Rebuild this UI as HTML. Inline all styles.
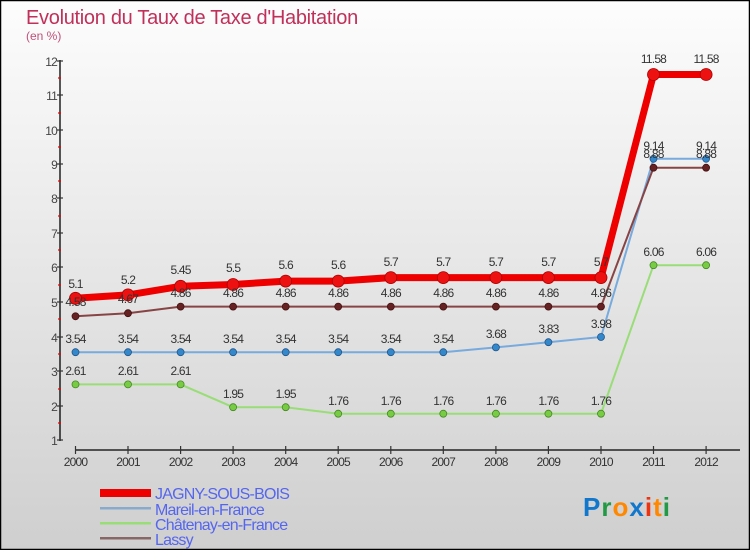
<!DOCTYPE html><html><head><style>body{margin:0}svg{display:block}text{font-family:"Liberation Sans",sans-serif}</style></head><body>
<svg width="750" height="550" xmlns="http://www.w3.org/2000/svg">
<defs><linearGradient id="g" x1="0" y1="0" x2="0" y2="1"><stop offset="0" stop-color="#fdfdfd"/><stop offset="1" stop-color="#cfcfcf"/></linearGradient></defs>
<rect x="0.5" y="0.5" width="749" height="549" fill="url(#g)" stroke="#000" stroke-width="1.5"/>
<text x="26" y="24" font-size="20" fill="#c0305a" letter-spacing="-0.3">Evolution du Taux de Taxe d'Habitation</text>
<text x="26" y="40" font-size="12" fill="#c0507a">(en %)</text>
<g stroke="#000" stroke-width="1.3"><line x1="60" y1="60" x2="60" y2="441"/><line x1="75" y1="450" x2="740" y2="450"/></g>
<g stroke="#333" stroke-width="1.2">
<line x1="57" y1="61" x2="63" y2="61"/><line x1="57" y1="95" x2="63" y2="95"/><line x1="57" y1="130" x2="63" y2="130"/><line x1="57" y1="164" x2="63" y2="164"/><line x1="57" y1="198" x2="63" y2="198"/><line x1="57" y1="233" x2="63" y2="233"/><line x1="57" y1="267" x2="63" y2="267"/><line x1="57" y1="302" x2="63" y2="302"/><line x1="57" y1="337" x2="63" y2="337"/><line x1="57" y1="371" x2="63" y2="371"/><line x1="57" y1="406" x2="63" y2="406"/><line x1="57" y1="440" x2="63" y2="440"/>
</g>
<g stroke="#e00" stroke-width="1.2">
<line x1="58" y1="78" x2="61" y2="78"/><line x1="58" y1="113" x2="61" y2="113"/><line x1="58" y1="147" x2="61" y2="147"/><line x1="58" y1="181" x2="61" y2="181"/><line x1="58" y1="216" x2="61" y2="216"/><line x1="58" y1="250" x2="61" y2="250"/><line x1="58" y1="285" x2="61" y2="285"/><line x1="58" y1="319" x2="61" y2="319"/><line x1="58" y1="354" x2="61" y2="354"/><line x1="58" y1="389" x2="61" y2="389"/><line x1="58" y1="423" x2="61" y2="423"/>
</g>
<g font-size="12" fill="#444" text-anchor="end" letter-spacing="-0.8">
<text x="57" y="66">12</text><text x="57" y="100">11</text><text x="57" y="135">10</text><text x="57" y="169">9</text><text x="57" y="203">8</text><text x="57" y="238">7</text><text x="57" y="272">6</text><text x="57" y="307">5</text><text x="57" y="342">4</text><text x="57" y="376">3</text><text x="57" y="411">2</text><text x="57" y="445">1</text>
</g>
<g stroke="#333" stroke-width="1.2">
<line x1="75.5" y1="446" x2="75.5" y2="454"/><line x1="128" y1="446" x2="128" y2="454"/><line x1="180.6" y1="446" x2="180.6" y2="454"/><line x1="233.1" y1="446" x2="233.1" y2="454"/><line x1="285.7" y1="446" x2="285.7" y2="454"/><line x1="338.2" y1="446" x2="338.2" y2="454"/><line x1="390.8" y1="446" x2="390.8" y2="454"/><line x1="443.3" y1="446" x2="443.3" y2="454"/><line x1="495.9" y1="446" x2="495.9" y2="454"/><line x1="548.4" y1="446" x2="548.4" y2="454"/><line x1="601" y1="446" x2="601" y2="454"/><line x1="653.5" y1="446" x2="653.5" y2="454"/><line x1="706.1" y1="446" x2="706.1" y2="454"/>
</g>
<g font-size="12" fill="#333" text-anchor="middle" letter-spacing="-0.8">
<text x="75.5" y="466">2000</text><text x="128" y="466">2001</text><text x="180.6" y="466">2002</text><text x="233.1" y="466">2003</text><text x="285.7" y="466">2004</text><text x="338.2" y="466">2005</text><text x="390.8" y="466">2006</text><text x="443.3" y="466">2007</text><text x="495.9" y="466">2008</text><text x="548.4" y="466">2009</text><text x="601" y="466">2010</text><text x="653.5" y="466">2011</text><text x="706.1" y="466">2012</text>
</g>
<polyline fill="none" stroke="#99dd77" stroke-width="2" points="75.5,384.4 128,384.4 180.6,384.4 233.1,407.2 285.7,407.2 338.2,413.7 390.8,413.7 443.3,413.7 495.9,413.7 548.4,413.7 601,413.7 653.5,265.2 706.1,265.2"/>
<g fill="#77cc44" stroke="#448822" stroke-width="0.8"><circle cx="75.5" cy="384.4" r="3.5"/><circle cx="128" cy="384.4" r="3.5"/><circle cx="180.6" cy="384.4" r="3.5"/><circle cx="233.1" cy="407.2" r="3.5"/><circle cx="285.7" cy="407.2" r="3.5"/><circle cx="338.2" cy="413.7" r="3.5"/><circle cx="390.8" cy="413.7" r="3.5"/><circle cx="443.3" cy="413.7" r="3.5"/><circle cx="495.9" cy="413.7" r="3.5"/><circle cx="548.4" cy="413.7" r="3.5"/><circle cx="601" cy="413.7" r="3.5"/><circle cx="653.5" cy="265.2" r="3.5"/><circle cx="706.1" cy="265.2" r="3.5"/></g>
<polyline fill="none" stroke="#77aadd" stroke-width="2" points="75.5,352.2 128,352.2 180.6,352.2 233.1,352.2 285.7,352.2 338.2,352.2 390.8,352.2 443.3,352.2 495.9,347.4 548.4,342.2 601,337 653.5,158.8 706.1,158.8"/>
<g fill="#3388cc" stroke="#225588" stroke-width="0.8"><circle cx="75.5" cy="352.2" r="3.5"/><circle cx="128" cy="352.2" r="3.5"/><circle cx="180.6" cy="352.2" r="3.5"/><circle cx="233.1" cy="352.2" r="3.5"/><circle cx="285.7" cy="352.2" r="3.5"/><circle cx="338.2" cy="352.2" r="3.5"/><circle cx="390.8" cy="352.2" r="3.5"/><circle cx="443.3" cy="352.2" r="3.5"/><circle cx="495.9" cy="347.4" r="3.5"/><circle cx="548.4" cy="342.2" r="3.5"/><circle cx="601" cy="337" r="3.5"/><circle cx="653.5" cy="158.8" r="3.5"/><circle cx="706.1" cy="158.8" r="3.5"/></g>
<polyline fill="none" stroke="#884444" stroke-width="2" points="75.5,316.3 128,313.2 180.6,306.6 233.1,306.6 285.7,306.6 338.2,306.6 390.8,306.6 443.3,306.6 495.9,306.6 548.4,306.6 601,306.6 653.5,167.7 706.1,167.7"/>
<g fill="#662222" stroke="#441111" stroke-width="0.8"><circle cx="75.5" cy="316.3" r="3.5"/><circle cx="128" cy="313.2" r="3.5"/><circle cx="180.6" cy="306.6" r="3.5"/><circle cx="233.1" cy="306.6" r="3.5"/><circle cx="285.7" cy="306.6" r="3.5"/><circle cx="338.2" cy="306.6" r="3.5"/><circle cx="390.8" cy="306.6" r="3.5"/><circle cx="443.3" cy="306.6" r="3.5"/><circle cx="495.9" cy="306.6" r="3.5"/><circle cx="548.4" cy="306.6" r="3.5"/><circle cx="601" cy="306.6" r="3.5"/><circle cx="653.5" cy="167.7" r="3.5"/><circle cx="706.1" cy="167.7" r="3.5"/></g>
<polyline fill="none" stroke="#ee0000" stroke-width="7" stroke-linejoin="round" points="75.5,298.3 128,294.9 180.6,286.3 233.1,284.5 285.7,281.1 338.2,281.1 390.8,277.6 443.3,277.6 495.9,277.6 548.4,277.6 601,277.6 653.5,74.5 706.1,74.5"/>
<g fill="#ee1111" stroke="#aa0000" stroke-width="0.8"><circle cx="75.5" cy="298.3" r="6"/><circle cx="128" cy="294.9" r="6"/><circle cx="180.6" cy="286.3" r="6"/><circle cx="233.1" cy="284.5" r="6"/><circle cx="285.7" cy="281.1" r="6"/><circle cx="338.2" cy="281.1" r="6"/><circle cx="390.8" cy="277.6" r="6"/><circle cx="443.3" cy="277.6" r="6"/><circle cx="495.9" cy="277.6" r="6"/><circle cx="548.4" cy="277.6" r="6"/><circle cx="601" cy="277.6" r="6"/><circle cx="653.5" cy="74.5" r="6"/><circle cx="706.1" cy="74.5" r="6"/></g>
<g font-size="12" fill="#333" text-anchor="middle" letter-spacing="-0.8">
<text x="75.5" y="288">5.1</text><text x="128" y="284">5.2</text><text x="180.6" y="274">5.45</text><text x="233.1" y="272">5.5</text><text x="285.7" y="269">5.6</text><text x="338.2" y="269">5.6</text><text x="390.8" y="266">5.7</text><text x="443.3" y="266">5.7</text><text x="495.9" y="266">5.7</text><text x="548.4" y="266">5.7</text><text x="601" y="266">5.7</text><text x="653.5" y="63">11.58</text><text x="706.1" y="63">11.58</text>
<text x="75.5" y="306">4.58</text><text x="128" y="303">4.67</text><text x="180.6" y="297">4.86</text><text x="233.1" y="297">4.86</text><text x="285.7" y="297">4.86</text><text x="338.2" y="297">4.86</text><text x="390.8" y="297">4.86</text><text x="443.3" y="297">4.86</text><text x="495.9" y="297">4.86</text><text x="548.4" y="297">4.86</text><text x="601" y="297">4.86</text><text x="653.5" y="158">8.88</text><text x="706.1" y="158">8.88</text>
<text x="75.5" y="343">3.54</text><text x="128" y="343">3.54</text><text x="180.6" y="343">3.54</text><text x="233.1" y="343">3.54</text><text x="285.7" y="343">3.54</text><text x="338.2" y="343">3.54</text><text x="390.8" y="343">3.54</text><text x="443.3" y="343">3.54</text><text x="495.9" y="338">3.68</text><text x="548.4" y="333">3.83</text><text x="601" y="328">3.98</text><text x="653.5" y="150">9.14</text><text x="706.1" y="150">9.14</text>
<text x="75.5" y="375">2.61</text><text x="128" y="375">2.61</text><text x="180.6" y="375">2.61</text><text x="233.1" y="398">1.95</text><text x="285.7" y="398">1.95</text><text x="338.2" y="405">1.76</text><text x="390.8" y="405">1.76</text><text x="443.3" y="405">1.76</text><text x="495.9" y="405">1.76</text><text x="548.4" y="405">1.76</text><text x="601" y="405">1.76</text><text x="653.5" y="256">6.06</text><text x="706.1" y="256">6.06</text>
</g>
<rect x="100" y="489" width="51" height="8" fill="#ee0000"/>
<rect x="100" y="507" width="51" height="2.5" fill="#88aacc"/>
<rect x="100" y="522" width="51" height="2.5" fill="#99dd77"/>
<rect x="100" y="537" width="51" height="2.5" fill="#886666"/>
<g font-size="16" fill="#5566ee" letter-spacing="-0.8">
<text x="155" y="499">JAGNY-SOUS-BOIS</text><text x="155" y="515">Mareil-en-France</text><text x="155" y="530">Châtenay-en-France</text><text x="155" y="545">Lassy</text>
</g>
<text x="583" y="516" font-size="26" font-weight="bold" letter-spacing="1"><tspan fill="#1177cc">P</tspan><tspan fill="#229944">r</tspan><tspan fill="#ff8800">o</tspan><tspan fill="#1177cc">x</tspan><tspan fill="#ee3311">i</tspan><tspan fill="#ff8800">t</tspan><tspan fill="#229944">i</tspan></text>
</svg></body></html>
